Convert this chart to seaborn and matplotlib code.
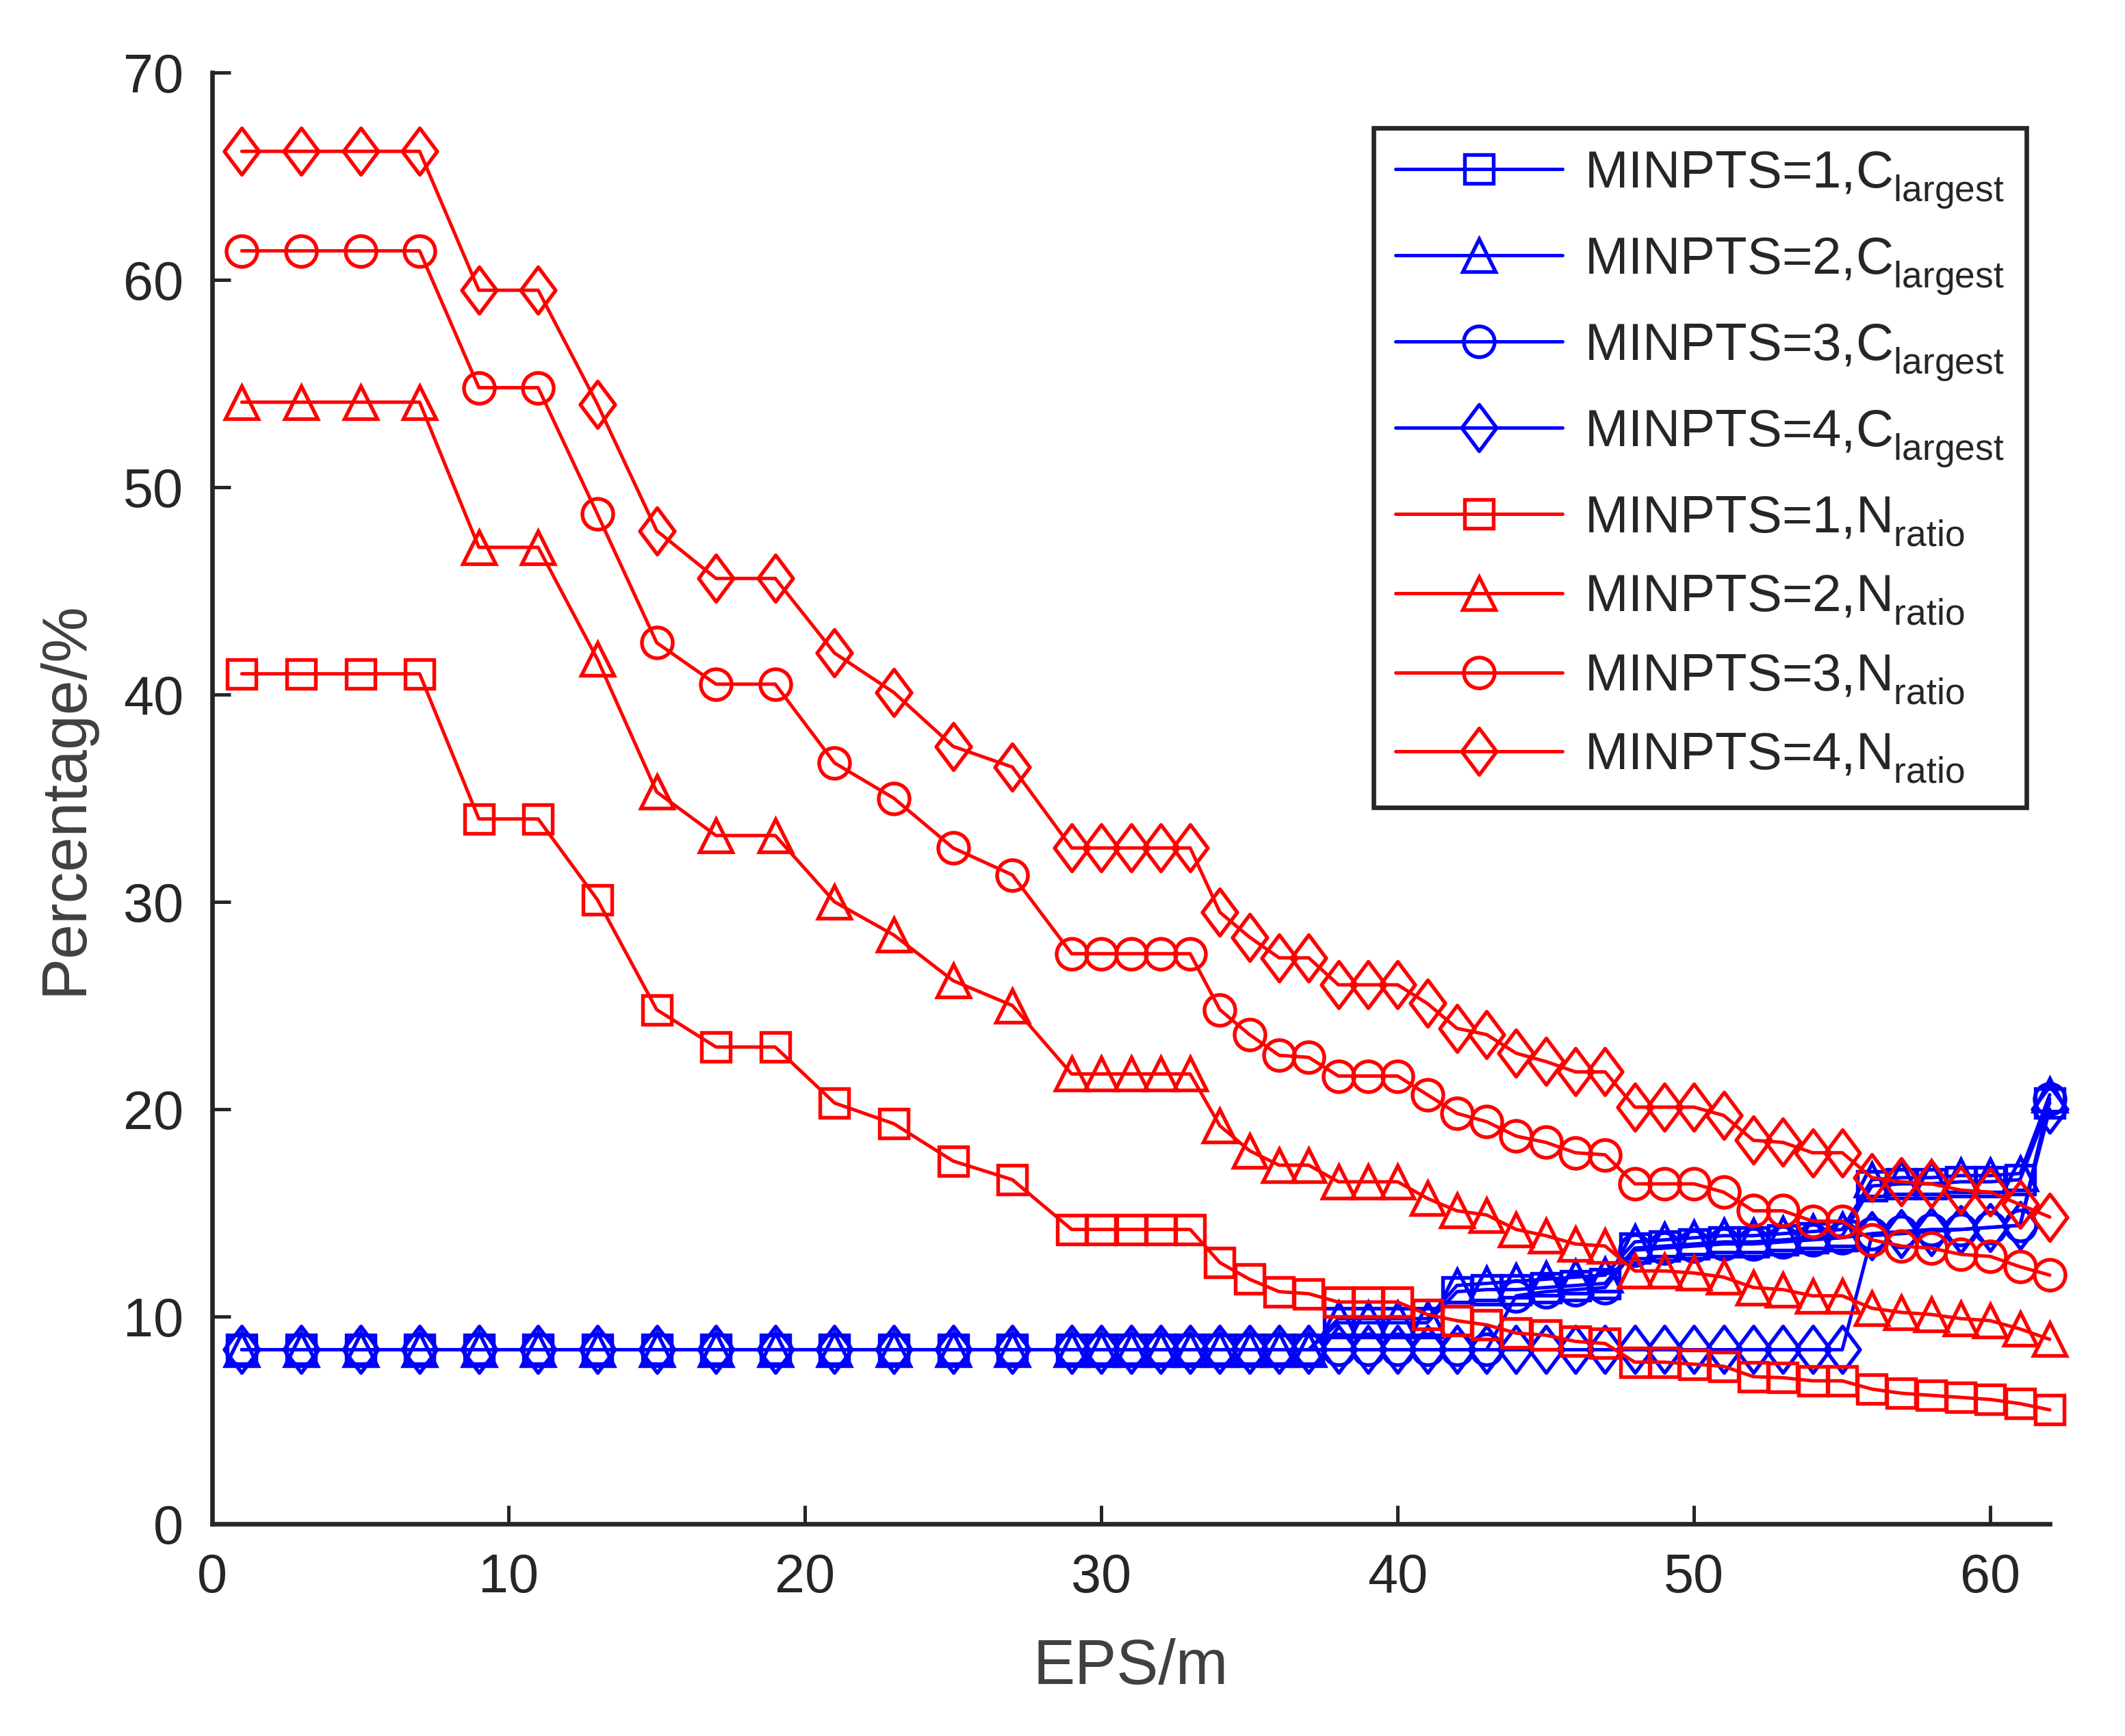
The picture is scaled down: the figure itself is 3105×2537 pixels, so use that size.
import numpy as np
import pandas as pd
import seaborn as sns
import matplotlib
matplotlib.use("Agg")
import matplotlib.pyplot as plt
from matplotlib.path import Path

# EPS values (m) where the clustering was evaluated
eps = [1, 3, 5, 7, 9, 11, 13, 15, 17, 19, 21, 23, 25, 27, 29,
       30, 31, 32, 33, 34, 35, 36, 37, 38, 39, 40, 41, 42, 43, 44, 45, 46,
       47, 48, 49, 50, 51, 52, 53, 54, 55, 56, 57, 58, 59, 60, 61, 62]

# C_largest (blue) for MINPTS = 1..4
c_largest_1 = [8.4, 8.4, 8.4, 8.4, 8.4, 8.4, 8.4, 8.4, 8.4, 8.4, 8.4, 8.4, 8.4, 8.4, 8.4,
               8.4, 8.4, 8.4, 8.4, 8.4, 8.4, 8.4, 8.4, 9.7, 9.7, 9.7, 9.7, 11.2, 11.3, 11.3, 11.4, 11.5,
               11.6, 13.3, 13.4, 13.5, 13.6, 13.6, 13.7, 13.8, 13.9, 16.3, 16.4, 16.4, 16.5, 16.5, 16.6, 20.3]
c_largest_2 = [8.4, 8.4, 8.4, 8.4, 8.4, 8.4, 8.4, 8.4, 8.4, 8.4, 8.4, 8.4, 8.4, 8.4, 8.4,
               8.4, 8.4, 8.4, 8.4, 8.4, 8.4, 8.4, 8.4, 9.9, 9.9, 9.9, 9.9, 11.5, 11.6, 11.7, 11.8, 11.9,
               12.0, 13.6, 13.7, 13.8, 13.9, 13.9, 14.0, 14.1, 14.2, 16.6, 16.7, 16.7, 16.8, 16.8, 16.9, 20.7]
c_largest_3 = [8.4, 8.4, 8.4, 8.4, 8.4, 8.4, 8.4, 8.4, 8.4, 8.4, 8.4, 8.4, 8.4, 8.4, 8.4,
               8.4, 8.4, 8.4, 8.4, 8.4, 8.4, 8.4, 8.4, 8.4, 8.4, 8.4, 8.4, 8.4, 8.4, 11.0, 11.2, 11.3,
               11.4, 13.2, 13.3, 13.4, 13.5, 13.5, 13.6, 13.7, 13.8, 14.0, 14.1, 14.2, 14.2, 14.3, 14.4, 20.5]
c_largest_4 = [8.4, 8.4, 8.4, 8.4, 8.4, 8.4, 8.4, 8.4, 8.4, 8.4, 8.4, 8.4, 8.4, 8.4, 8.4,
               8.4, 8.4, 8.4, 8.4, 8.4, 8.4, 8.4, 8.4, 8.4, 8.4, 8.4, 8.4, 8.4, 8.4, 8.4, 8.4, 8.4,
               8.4, 8.4, 8.4, 8.4, 8.4, 8.4, 8.4, 8.4, 8.4, 13.9, 14.0, 14.1, 14.2, 14.3, 14.4, 20.0]

# N_ratio (red) for MINPTS = 1..4
n_ratio_1 = [41.0, 41.0, 41.0, 41.0, 34.0, 34.0, 30.1, 24.8, 23.0, 23.0, 20.3, 19.3, 17.5, 16.6, 14.2,
             14.2, 14.2, 14.2, 14.2, 12.6, 11.8, 11.2, 11.1, 10.7, 10.7, 10.7, 10.1, 9.8, 9.6, 9.2, 9.1, 8.8,
             8.7, 7.8, 7.8, 7.7, 7.6, 7.1, 7.05, 6.9, 6.9, 6.5, 6.3, 6.2, 6.1, 6.0, 5.8, 5.5]
n_ratio_2 = [54.1, 54.1, 54.1, 54.1, 47.1, 47.1, 41.7, 35.3, 33.2, 33.2, 30.0, 28.4, 26.2, 25.0, 21.7,
             21.7, 21.7, 21.7, 21.7, 19.2, 18.0, 17.3, 17.3, 16.5, 16.5, 16.5, 15.7, 15.1, 14.9, 14.2, 13.9, 13.5,
             13.4, 12.2, 12.2, 12.1, 11.9, 11.4, 11.3, 11.0, 11.0, 10.4, 10.2, 10.1, 9.9, 9.8, 9.4, 8.9]
n_ratio_3 = [61.4, 61.4, 61.4, 61.4, 54.8, 54.8, 48.7, 42.5, 40.5, 40.5, 36.7, 35.0, 32.6, 31.3, 27.5,
             27.5, 27.5, 27.5, 27.5, 24.8, 23.6, 22.6, 22.5, 21.6, 21.6, 21.6, 20.7, 19.8, 19.4, 18.7, 18.4, 17.9,
             17.8, 16.4, 16.4, 16.4, 16.0, 15.1, 15.1, 14.6, 14.6, 13.7, 13.4, 13.3, 13.0, 12.9, 12.4, 12.0]
n_ratio_4 = [66.2, 66.2, 66.2, 66.2, 59.5, 59.5, 54.0, 47.9, 45.6, 45.6, 42.0, 40.1, 37.5, 36.5, 32.6,
             32.6, 32.6, 32.6, 32.6, 29.5, 28.3, 27.3, 27.3, 26.0, 26.0, 26.0, 25.1, 23.9, 23.6, 22.7, 22.3, 21.8,
             21.8, 20.1, 20.1, 20.1, 19.7, 18.5, 18.4, 17.9, 17.9, 16.7, 16.5, 16.4, 16.1, 16.0, 15.4, 14.8]

x_ticks = [0, 10, 20, 30, 40, 50, 60]
y_ticks = [0, 10, 20, 30, 40, 50, 60, 70]

sns.set_theme(style="ticks")
plt.rcParams['font.family'] = ['Liberation Sans', 'DejaVu Sans']
plt.rcParams['mathtext.fontset'] = 'custom'
plt.rcParams['mathtext.rm'] = 'Liberation Sans'
plt.rcParams['mathtext.it'] = 'Liberation Sans:italic'

# MATLAB style diamond: taller than wide
diamond = Path([(0, 1), (0.75, 0), (0, -1), (-0.75, 0), (0, 1)],
               [Path.MOVETO, Path.LINETO, Path.LINETO, Path.LINETO, Path.CLOSEPOLY])
markers = {1: ('s', 10), 2: ('^', 11.3), 3: ('o', 10.8), 4: (diamond, 16.3)}

series = [
    (c_largest_1, 1, 'C'), (c_largest_2, 2, 'C'), (c_largest_3, 3, 'C'), (c_largest_4, 4, 'C'),
    (n_ratio_1, 1, 'N'), (n_ratio_2, 2, 'N'), (n_ratio_3, 3, 'N'), (n_ratio_4, 4, 'N'),
]

fig = plt.figure(figsize=(3105 / 300, 2537 / 300), dpi=300)
ax = fig.add_axes([310 / 3105, 310 / 2537, 2685 / 3105, 2121 / 2537])

for vals, mp, kind in series:
    df = pd.DataFrame({'eps': eps, 'pct': vals})
    color = '#0000FF' if kind == 'C' else '#FF0000'
    # empty superscript pushes the subscript lower, like the MATLAB legend
    sym = (r'$\mathrm{C}^{\,}_{\mathrm{largest}}$' if kind == 'C'
           else r'$\mathrm{N}^{\,}_{\mathrm{ratio}}$')
    mk, ms = markers[mp]
    sns.lineplot(data=df, x='eps', y='pct', ax=ax, color=color, linewidth=1.2,
                 marker=mk, markersize=ms, markerfacecolor='none',
                 markeredgecolor=color, markeredgewidth=1.3, clip_on=False,
                 label=f'MINPTS={mp},' + sym, legend=False)

ax.set_xlim(0, 62)
ax.set_ylim(0, 70)
ax.set_xticks(x_ticks)
ax.set_yticks(y_ticks)
sns.despine(ax=ax)
for s in ['left', 'bottom']:
    ax.spines[s].set_linewidth(1.6)
    ax.spines[s].set_color('#262626')
ax.tick_params(direction='in', length=6.4, width=1.2, color='#262626',
               labelsize=19, labelcolor='#262626', pad=10)

ax.set_xlabel('EPS/m', fontsize=22, color='#404040', labelpad=12)
ax.set_ylabel('Percentage/%', fontsize=22, color='#404040', labelpad=10)

handles, labels = ax.get_legend_handles_labels()
leg = ax.legend(handles, labels, loc='upper left', bbox_to_anchor=(0.632, 0.962),
                borderaxespad=0, fontsize=18.3, frameon=True, fancybox=False,
                handlelength=3.2, handletextpad=0.42, labelspacing=0.5,
                borderpad=0.42)
leg.get_frame().set_edgecolor('#262626')
leg.get_frame().set_linewidth(1.6)
leg.get_frame().set_facecolor('white')
leg.get_frame().set_alpha(1)

fig.savefig('out.png', dpi=300, facecolor='white')
